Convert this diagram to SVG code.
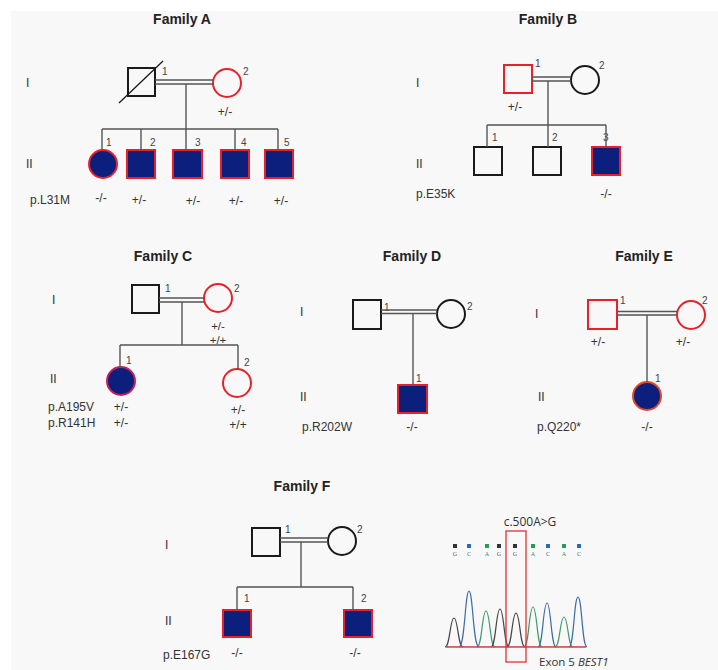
<svg xmlns="http://www.w3.org/2000/svg" width="718" height="670" viewBox="0 0 718 670">
<style>
text{font-family:"Liberation Sans",Arial,sans-serif;fill:#333}
.t{font-size:14px;font-weight:bold;fill:#222;text-anchor:middle}
.g{font-size:12px}
.gm{font-size:12px;text-anchor:middle}
.n{font-size:10px;fill:#444}
.m{fill:none;stroke:#1a1a1a;stroke-width:2}
.c{fill:none;stroke:#e8202a;stroke-width:2}
.a{fill:#0d1f7c;stroke:#e8202a;stroke-width:2}
.cn line{stroke:#555;stroke-width:1.4}
.pk{fill:none;stroke-width:1.2}
.bl{font-family:"Liberation Serif",serif;font-size:6px;text-anchor:middle}
</style>
<rect x="11" y="11" width="707" height="659" fill="#f8f8f8"/>

<!-- Family A -->
<text class="t" x="182" y="24">Family A</text>
<text class="g" x="26" y="87">I</text>
<text class="g" x="26" y="168">II</text>
<text class="g" x="30" y="204">p.L31M</text>
<g id="A-I-1"><rect class="m" x="128" y="68" width="27" height="28"/><line x1="119" y1="103" x2="163" y2="61" stroke="#1a1a1a" stroke-width="1.3"/><text class="n" x="162" y="75">1</text></g>
<g id="A-I-2"><circle class="c" cx="227" cy="83" r="14"/><text class="n" x="243" y="75">2</text><text class="gm" x="225" y="116">+/-</text></g>
<g id="A-II-1"><circle class="a" cx="103" cy="164" r="14"/><text class="n" x="106" y="146">1</text><text class="gm" x="101" y="202">-/-</text></g>
<g id="A-II-2"><rect class="a" x="127" y="150" width="28" height="28"/><text class="n" x="150" y="146">2</text><text class="gm" x="139" y="204">+/-</text></g>
<g id="A-II-3"><rect class="a" x="173" y="150" width="29" height="28"/><text class="n" x="195" y="146">3</text><text class="gm" x="193" y="205">+/-</text></g>
<g id="A-II-4"><rect class="a" x="221" y="150" width="28" height="28"/><text class="n" x="241" y="146">4</text><text class="gm" x="236" y="205">+/-</text></g>
<g id="A-II-5"><rect class="a" x="265" y="150" width="28" height="28"/><text class="n" x="284" y="146">5</text><text class="gm" x="281" y="205">+/-</text></g>

<!-- Family B -->
<text class="t" x="548" y="24">Family B</text>
<text class="g" x="416" y="87">I</text>
<text class="g" x="416" y="168">II</text>
<text class="g" x="416" y="198">p.E35K</text>
<g id="B-I-1"><rect class="c" x="504" y="65" width="28" height="28"/><text class="n" x="535" y="67">1</text><text class="gm" x="515" y="111">+/-</text></g>
<g id="B-I-2"><circle class="m" cx="585" cy="80" r="14"/><text class="n" x="599" y="69">2</text></g>
<g id="B-II-1"><rect class="m" x="474" y="147" width="28" height="28"/><text class="n" x="492" y="141">1</text></g>
<g id="B-II-2"><rect class="m" x="533" y="147" width="28" height="28"/><text class="n" x="552" y="141">2</text></g>
<g id="B-II-3"><rect class="a" x="592" y="147" width="28" height="28"/><text class="n" x="603" y="141">3</text><text class="gm" x="606" y="198">-/-</text></g>

<!-- Family C -->
<text class="t" x="163" y="261">Family C</text>
<text class="g" x="52" y="304">I</text>
<text class="g" x="50" y="383">II</text>
<text class="g" x="48" y="411">p.A195V</text>
<text class="g" x="48" y="427">p.R141H</text>
<g id="C-I-1"><rect class="m" x="132" y="285" width="27" height="28"/><text class="n" x="165" y="292">1</text></g>
<g id="C-I-2"><circle class="c" cx="218" cy="298" r="14"/><text class="n" x="234" y="292">2</text><text class="gm" x="218" y="330" style="font-size:11.5px">+/-</text><text class="gm" x="218" y="344" style="font-size:11.5px">+/+</text></g>
<g id="C-II-1"><circle class="a" cx="121" cy="381" r="14" style="stroke:#c8205a"/><text class="n" x="126" y="364">1</text><text class="gm" x="121" y="411">+/-</text><text class="gm" x="121" y="427">+/-</text></g>
<g id="C-II-2"><circle class="c" cx="237" cy="383" r="14"/><text class="n" x="244" y="366">2</text><text class="gm" x="238" y="414">+/-</text><text class="gm" x="238" y="429">+/+</text></g>

<!-- Family D -->
<text class="t" x="412" y="261">Family D</text>
<text class="g" x="300" y="316">I</text>
<text class="g" x="300" y="401">II</text>
<text class="g" x="302" y="431">p.R202W</text>
<g id="D-I-1"><rect class="m" x="353" y="300" width="28" height="29"/><text class="n" x="384" y="311">1</text></g>
<g id="D-I-2"><circle class="m" cx="451" cy="314" r="14"/><text class="n" x="467" y="310">2</text></g>
<g id="D-II-1"><rect class="a" x="398" y="385" width="29" height="28"/><text class="n" x="416" y="382">1</text><text class="gm" x="412" y="431">-/-</text></g>

<!-- Family E -->
<text class="t" x="644" y="261">Family E</text>
<text class="g" x="535" y="318">I</text>
<text class="g" x="538" y="401">II</text>
<text class="g" x="537" y="431">p.Q220*</text>
<g id="E-I-1"><rect class="c" x="588" y="300" width="29" height="29"/><text class="n" x="620" y="304">1</text><text class="gm" x="598" y="346">+/-</text></g>
<g id="E-I-2"><circle class="c" cx="691" cy="315" r="14"/><text class="n" x="702" y="304">2</text><text class="gm" x="683" y="346">+/-</text></g>
<g id="E-II-1"><circle class="a" cx="647" cy="396" r="14" style="stroke:#e24a2a"/><text class="n" x="655" y="382">1</text><text class="gm" x="647" y="431">-/-</text></g>

<!-- Family F -->
<text class="t" x="302" y="491">Family F</text>
<text class="g" x="165" y="549">I</text>
<text class="g" x="165" y="625">II</text>
<text class="g" x="163" y="659">p.E167G</text>
<g id="F-I-1"><rect class="m" x="252" y="528" width="28" height="28"/><text class="n" x="285" y="533">1</text></g>
<g id="F-I-2"><circle class="m" cx="342" cy="541" r="14"/><text class="n" x="357" y="533">2</text></g>
<g id="F-II-1"><rect class="a" x="223" y="610" width="28" height="27"/><text class="n" x="244" y="602">1</text><text class="gm" x="237" y="657">-/-</text></g>
<g id="F-II-2"><rect class="a" x="344" y="610" width="28" height="27"/><text class="n" x="361" y="602">2</text><text class="gm" x="355" y="657">-/-</text></g>

<!-- Connectors -->
<g id="connectors" class="cn">
<line x1="155" y1="80" x2="213" y2="80"/><line x1="155" y1="84" x2="213" y2="84"/>
<line x1="186" y1="84" x2="186" y2="129"/><line x1="102" y1="129" x2="278" y2="129"/>
<line x1="102" y1="129" x2="102" y2="150"/><line x1="141" y1="129" x2="141" y2="150"/><line x1="186" y1="129" x2="186" y2="150"/><line x1="235" y1="129" x2="235" y2="150"/><line x1="278" y1="129" x2="278" y2="150"/>

<line x1="532" y1="77" x2="571" y2="77"/><line x1="532" y1="81" x2="571" y2="81"/>
<line x1="548" y1="81" x2="548" y2="125"/><line x1="487" y1="125" x2="606" y2="125"/>
<line x1="487" y1="125" x2="487" y2="147"/><line x1="548" y1="125" x2="548" y2="147"/><line x1="606" y1="125" x2="606" y2="147"/>

<line x1="159" y1="298" x2="204" y2="298"/><line x1="159" y1="302" x2="204" y2="302"/>
<line x1="182" y1="302" x2="182" y2="345"/><line x1="120" y1="345" x2="238" y2="345"/>
<line x1="120" y1="345" x2="120" y2="367"/><line x1="238" y1="345" x2="238" y2="369"/>

<line x1="381" y1="310" x2="437" y2="310"/><line x1="381" y1="313.5" x2="437" y2="313.5"/>
<line x1="413" y1="313" x2="413" y2="385"/>

<line x1="617" y1="311.5" x2="677" y2="311.5"/><line x1="617" y1="315" x2="677" y2="315"/>
<line x1="647" y1="315" x2="647" y2="382"/>

<line x1="280" y1="538" x2="328" y2="538"/><line x1="280" y1="542" x2="328" y2="542"/>
<line x1="301" y1="542" x2="301" y2="587"/><line x1="237" y1="587" x2="353" y2="587"/>
<line x1="237" y1="587" x2="237" y2="610"/><line x1="353" y1="587" x2="353" y2="610"/>
</g>

<!-- Chromatogram -->
<g id="chromatogram">
<text x="530" y="526" style="font-family:'Open Sans','Liberation Sans',sans-serif;font-size:12px;text-anchor:middle">c.500A&gt;G</text>
<g id="bases">
<rect x="453" y="544" width="4" height="4" fill="#333"/><text class="bl" x="455" y="556" style="fill:#555">G</text>
<rect x="467" y="544" width="4" height="4" fill="#2a6ab8"/><text class="bl" x="469" y="556" style="fill:#2a6ab8">C</text>
<rect x="485" y="544" width="4" height="4" fill="#2a9a5a"/><text class="bl" x="487" y="556" style="fill:#2a9a5a">A</text>
<rect x="497" y="544" width="4" height="4" fill="#333"/><text class="bl" x="499" y="556" style="fill:#555">G</text>
<rect x="513" y="544" width="4" height="4" fill="#333"/><text class="bl" x="515" y="556" style="fill:#555">G</text>
<rect x="531" y="544" width="4" height="4" fill="#2a9a5a"/><text class="bl" x="533" y="556" style="fill:#2a9a5a">A</text>
<rect x="546" y="544" width="4" height="4" fill="#2a6ab8"/><text class="bl" x="548" y="556" style="fill:#2a6ab8">C</text>
<rect x="562" y="544" width="4" height="4" fill="#2a9a5a"/><text class="bl" x="564" y="556" style="fill:#2a9a5a">A</text>
<rect x="577" y="544" width="4" height="4" fill="#2a6ab8"/><text class="bl" x="579" y="556" style="fill:#2a6ab8">C</text>
</g>
<g id="peaks">
<path class="pk" stroke="#444" d="M445 647 C450 647 450 618 454 618 C458 618 458 647 463 647"/>
<path class="pk" stroke="#3a6aa8" d="M459 647 C465 647 465 591 469 591 C473 591 473 647 479 647"/>
<path class="pk" stroke="#3a9a6a" d="M477 647 C482 647 482 611 486 611 C490 611 490 647 495 647"/>
<path class="pk" stroke="#444" d="M491 647 C496 647 496 609 500 609 C504 609 504 647 509 647"/>
<path class="pk" stroke="#444" d="M507 647 C512 647 512 613 516 613 C520 613 520 647 525 647"/>
<path class="pk" stroke="#3a9a6a" d="M524 647 C529 647 529 607 533 607 C537 607 537 647 542 647"/>
<path class="pk" stroke="#3a6aa8" d="M538 647 C543 647 543 603 547 603 C551 603 551 647 556 647"/>
<path class="pk" stroke="#3a9a6a" d="M555 647 C560 647 560 617 564 617 C568 617 568 647 573 647"/>
<path class="pk" stroke="#3a6aa8" d="M569 647 C574 647 574 597 578 597 C582 597 582 647 587 647"/>
<path fill="none" stroke="#c84040" stroke-width="0.8" d="M446 646.5 L586 646.5"/>
<path fill="none" stroke="#3a9a6a" stroke-width="0.8" d="M446 647.5 L586 647.5"/>
</g>
<rect x="506" y="531" width="20" height="131" fill="none" stroke="#d33" stroke-width="1.3"/>
<text x="539" y="666" style="font-family:'Open Sans','Liberation Sans',sans-serif;font-size:11.5px">Exon 5 <tspan font-style="italic">BEST1</tspan></text>
</g>
</svg>
